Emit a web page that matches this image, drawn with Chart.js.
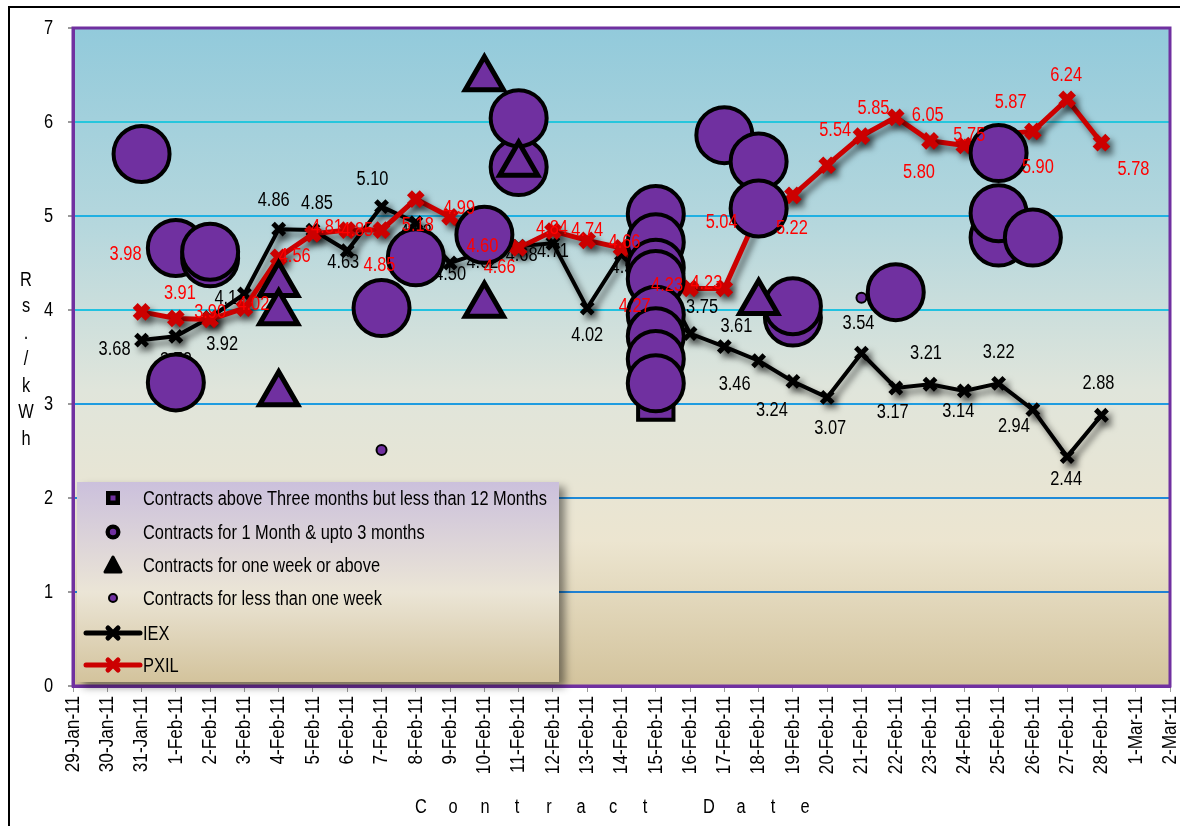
<!DOCTYPE html>
<html>
<head>
<meta charset="utf-8">
<title>IEX / PXIL contract prices</title>
<script src="https://cdn.jsdelivr.net/npm/chart.js@4/dist/chart.umd.min.js"></script>
<style>
  body { margin: 0; background: #fff; }
  #wrap { width: 1180px; height: 826px; position: relative; }
</style>
</head>
<body>
<div id="wrap"><canvas id="priceChart"></canvas></div>
<script>
var dates = ["29-Jan-11", "30-Jan-11", "31-Jan-11",
  "1-Feb-11", "2-Feb-11", "3-Feb-11", "4-Feb-11", "5-Feb-11", "6-Feb-11", "7-Feb-11",
  "8-Feb-11", "9-Feb-11", "10-Feb-11", "11-Feb-11", "12-Feb-11", "13-Feb-11", "14-Feb-11",
  "15-Feb-11", "16-Feb-11", "17-Feb-11", "18-Feb-11", "19-Feb-11", "20-Feb-11", "21-Feb-11",
  "22-Feb-11", "23-Feb-11", "24-Feb-11", "25-Feb-11", "26-Feb-11", "27-Feb-11", "28-Feb-11",
  "1-Mar-11", "2-Mar-11"];

// exchange prices, Rs./kWh (no trading shown on the first two and last two dates)
var iexPrice = [null, null, 3.68,
  3.72, 3.92, 4.17, 4.86, 4.85, 4.63, 5.10, 4.93, 4.50, 4.62, 4.68, 4.71, 4.02, 4.59,
  4.45, 3.75, 3.61, 3.46, 3.24, 3.07, 3.54, 3.17, 3.21, 3.14, 3.22, 2.94, 2.44, 2.88,
  null, null];
var pxilPrice = [null, null, 3.98,
  3.91, 3.90, 4.02, 4.56, 4.81, 4.85, 4.85, 5.18, 4.99, 4.60, 4.66, 4.84, 4.74, 4.66,
  4.27, 4.23, 4.23, 5.04, 5.22, 5.54, 5.85, 6.05, 5.80, 5.75, 5.87, 5.90, 6.24, 5.78,
  null, null];

// bilateral contracts by tenure: [date, price]
var longContracts = [["15-Feb-11", 3.02]];
var monthContracts = [
  ["31-Jan-11", 5.66], ["1-Feb-11", 4.66], ["1-Feb-11", 3.23], ["2-Feb-11", 4.55], ["2-Feb-11", 4.62],
  ["7-Feb-11", 4.02], ["8-Feb-11", 4.56], ["10-Feb-11", 4.80], ["11-Feb-11", 5.52], ["11-Feb-11", 6.04],
  ["15-Feb-11", 5.02], ["15-Feb-11", 4.72], ["15-Feb-11", 4.45], ["15-Feb-11", 4.33], ["15-Feb-11", 3.95],
  ["15-Feb-11", 3.72], ["15-Feb-11", 3.48], ["15-Feb-11", 3.22],
  ["17-Feb-11", 5.86], ["18-Feb-11", 5.58], ["18-Feb-11", 5.08], ["19-Feb-11", 3.92], ["19-Feb-11", 4.04],
  ["22-Feb-11", 4.19], ["25-Feb-11", 5.67], ["25-Feb-11", 4.77], ["25-Feb-11", 5.03], ["26-Feb-11", 4.77]];
var weekContracts = [
  ["4-Feb-11", 4.27], ["4-Feb-11", 3.97], ["4-Feb-11", 3.11], ["10-Feb-11", 6.46], ["10-Feb-11", 4.05],
  ["11-Feb-11", 5.55], ["18-Feb-11", 4.08]];
var dayContracts = [["7-Feb-11", 2.51], ["21-Feb-11", 4.13]];

// where each price label sits relative to its marker (px)
var iexLabelShift = [null, null, [-27, 9],
  [0, 24], [12, 27], [-14, 4], [-5, -29], [4, -27], [-4, 12], [-9, -27], [0, 10], [0, 11], [-2, 11],
  [3, 9], [0, 8], [0, 27], [5, 13], [2, 4], [12, -26], [12, -20], [-24, 24], [-21, 29], [3, 31],
  [-3, -30], [-3, 24], [-4, -31], [-6, 21], [0, -31], [-19, 17], [-1, 23], [-3, -32], null, null];
var pxilLabelShift = [null, null, [-16, -57],
  [4, -25], [0, -7], [9, -4], [16, -1], [14, -6], [10, 0], [-2, 35], [2, 26], [9, -8], [-2, -7],
  [-19, 20], [-1, -3], [0, -10], [3, -5], [-21, 22], [-23, -3], [-18, -5], [-37, 10], [-1, 33], [8, -35],
  [12, -28], [32, -2], [-11, 32], [5, -10], [12, -32], [5, 36], [-1, -24], [32, 27], null, null];

var FONT = "'Liberation Sans', Arial, sans-serif";
var SQUEEZE = 0.82;   // narrow face look
var PURPLE = "#7030A0";

function points(list) {
  return list.map(function (p) { return { x: p[0], y: p[1] }; });
}

function contractSet(label, list, style, radius, border, order) {
  return {
    label: label, data: points(list), showLine: false, order: order,
    pointStyle: style, pointRadius: radius, pointHoverRadius: radius,
    pointBackgroundColor: PURPLE, pointBorderColor: "#000", pointBorderWidth: border,
    backgroundColor: PURPLE, borderColor: "#000"
  };
}

function narrowText(ctx, text, x, y, align, angle) {
  ctx.save();
  ctx.translate(x, y);
  if (angle) ctx.rotate(angle);
  ctx.scale(SQUEEZE, 1);
  ctx.textAlign = align || "center";
  ctx.fillText(text, 0, 0);
  ctx.restore();
}

function drawValues(chart, index, values, shifts, color) {
  var ctx = chart.ctx;
  var meta = chart.getDatasetMeta(index);
  ctx.save();
  ctx.font = "20px " + FONT;
  ctx.fillStyle = color;
  ctx.textBaseline = "middle";
  meta.data.forEach(function (pt, i) {
    if (values[i] == null) return;
    var s = shifts[i] || [0, 0];
    narrowText(ctx, values[i].toFixed(2), pt.x + s[0], pt.y + s[1], "center");
  });
  ctx.restore();
}

function drawTickLabels(chart) {
  var ctx = chart.ctx, xs = chart.scales.x, ys = chart.scales.y;
  ctx.save();
  ctx.fillStyle = "#000";
  ctx.textBaseline = "middle";
  ctx.font = "21px " + FONT;
  xs.ticks.forEach(function (t, i) {
    narrowText(ctx, xs.getLabelForValue(t.value), xs.getPixelForTick(i), xs.top + 10, "right", -Math.PI / 2);
  });
  ctx.font = "20px " + FONT;
  ys.ticks.forEach(function (t, i) {
    narrowText(ctx, String(t.value), ys.right - 20, ys.getPixelForTick(i), "right");
  });
  ctx.restore();
}

function crossMark(ctx, x, y, r) {
  ctx.beginPath();
  ctx.moveTo(x - r, y - r); ctx.lineTo(x + r, y + r);
  ctx.moveTo(x + r, y - r); ctx.lineTo(x - r, y + r);
  ctx.stroke();
}

function drawLegend(chart) {
  var ctx = chart.ctx;
  var bx = 77, by = 482, bw = 482, bh = 200;
  ctx.save();
  ctx.shadowColor = "rgba(0,0,0,0.45)";
  ctx.shadowBlur = 8;
  ctx.shadowOffsetX = 6;
  ctx.shadowOffsetY = 5;
  var g = ctx.createLinearGradient(0, by, 0, by + bh);
  g.addColorStop(0, "#cbc0dc");
  g.addColorStop(0.55, "#ebe5d6");
  g.addColorStop(1, "#d3c39c");
  ctx.fillStyle = g;
  ctx.fillRect(bx, by, bw, bh);
  ctx.restore();

  var rows = [498, 532, 565, 598, 633, 665];
  var mx = 113;
  ctx.save();
  ctx.font = "20px " + FONT;
  ctx.textBaseline = "middle";
  chart.data.datasets.forEach(function (ds, i) {
    var y = rows[i];
    ctx.lineJoin = "round";
    if (ds.pointStyle === "rect") {
      ctx.fillStyle = "#000";
      ctx.fillRect(mx - 7, y - 7, 14, 14);
      ctx.fillStyle = PURPLE;
      ctx.fillRect(mx - 2.5, y - 2.5, 5, 5);
    } else if (ds.pointStyle === "circle" && ds.pointRadius > 10) {
      ctx.fillStyle = "#000";
      ctx.beginPath(); ctx.arc(mx, y, 7.5, 0, Math.PI * 2); ctx.fill();
      ctx.fillStyle = PURPLE;
      ctx.beginPath(); ctx.arc(mx, y, 3.2, 0, Math.PI * 2); ctx.fill();
    } else if (ds.pointStyle === "triangle") {
      ctx.fillStyle = "#000"; ctx.strokeStyle = "#000"; ctx.lineWidth = 3;
      ctx.beginPath(); ctx.moveTo(mx, y - 8); ctx.lineTo(mx + 8, y + 7); ctx.lineTo(mx - 8, y + 7);
      ctx.closePath(); ctx.fill(); ctx.stroke();
    } else if (ds.pointStyle === "circle") {
      ctx.fillStyle = PURPLE; ctx.strokeStyle = "#000"; ctx.lineWidth = 2;
      ctx.beginPath(); ctx.arc(mx, y, 4, 0, Math.PI * 2); ctx.fill(); ctx.stroke();
    } else {
      ctx.strokeStyle = ds.borderColor;
      ctx.lineCap = "round";
      ctx.lineWidth = 5;
      ctx.beginPath(); ctx.moveTo(86, y); ctx.lineTo(140, y); ctx.stroke();
      crossMark(ctx, mx, y, 5);
    }
    ctx.fillStyle = "#000";
    narrowText(ctx, ds.label, 143, y + 1, "left");
  });
  ctx.restore();
}

function drawTitles(chart) {
  var ctx = chart.ctx;
  ctx.save();
  ctx.font = "20px " + FONT;
  ctx.fillStyle = "#000";
  ctx.textBaseline = "middle";
  "Rs./kWh".split("").forEach(function (ch, k) { narrowText(ctx, ch, 26, 280 + k * 26.5, "center"); });
  "Contract Date".split("").forEach(function (ch, k) { narrowText(ctx, ch, 421 + k * 32, 807, "center"); });
  ctx.restore();
}

var chartDecor = {
  id: "chartDecor",
  beforeDraw: function (chart) {
    var ctx = chart.ctx, a = chart.chartArea;
    ctx.save();
    ctx.fillStyle = "#fff";
    ctx.fillRect(0, 0, chart.width, chart.height);
    ctx.strokeStyle = "#000";
    ctx.lineWidth = 2;
    ctx.strokeRect(9, 7, chart.width + 20, chart.height + 20);
    var g = ctx.createLinearGradient(0, a.top, 0, a.bottom);
    g.addColorStop(0, "#92cadb");
    g.addColorStop(0.3, "#b5d7dd");
    g.addColorStop(0.55, "#e0e5db");
    g.addColorStop(0.78, "#ece5d0");
    g.addColorStop(1, "#d3c39c");
    ctx.fillStyle = g;
    ctx.fillRect(a.left, a.top, a.right - a.left, a.bottom - a.top);
    ctx.restore();
  },
  beforeDatasetsDraw: function (chart) {
    var ctx = chart.ctx, a = chart.chartArea;
    ctx.save();
    ctx.strokeStyle = PURPLE;
    ctx.lineWidth = 3;
    ctx.strokeRect(a.left, a.top, a.right - a.left, a.bottom - a.top);
    ctx.restore();
  },
  beforeDatasetDraw: function (chart, args) {
    var ds = chart.data.datasets[args.index];
    if (!ds.shadow) return;
    var ctx = chart.ctx;
    ctx.save();
    ctx.shadowColor = "rgba(0,0,0,0.55)";
    ctx.shadowBlur = 6;
    ctx.shadowOffsetX = 4;
    ctx.shadowOffsetY = 5;
  },
  afterDatasetDraw: function (chart, args) {
    var ds = chart.data.datasets[args.index];
    if (!ds.shadow) return;
    chart.ctx.restore();
    if (ds.label === "IEX") drawValues(chart, args.index, iexPrice, iexLabelShift, "#000");
  },
  afterDraw: function (chart) {
    drawValues(chart, 5, pxilPrice, pxilLabelShift, "#ff0000");
    drawTickLabels(chart);
    drawLegend(chart);
    drawTitles(chart);
  }
};

var gridColors = ["rgba(0,0,0,0)", "#1f80d2", "#1f8ad8", "#1f9ce0", "#22c2e0", "#20b0e2", "#26c6dc", "rgba(0,0,0,0)"];

Chart.defaults.font.family = FONT;
Chart.defaults.font.size = 20;
Chart.defaults.color = "#000";

new Chart("priceChart", {
  type: "line",
  data: {
    labels: dates,
    datasets: [
      contractSet("Contracts above Three months but less than 12 Months", longContracts, "rect", 25, 4, 4),
      contractSet("Contracts for 1 Month & upto 3 months", monthContracts, "circle", 28, 4, 3),
      contractSet("Contracts for one week or above", weekContracts, "triangle", 22, 5, 2),
      contractSet("Contracts for less than one week", dayContracts, "circle", 5, 2, 1),
      {
        label: "IEX", data: iexPrice, order: 6, shadow: true,
        borderColor: "#000", borderWidth: 4, backgroundColor: "#000",
        pointStyle: "crossRot", pointRadius: 8, pointHoverRadius: 8,
        pointBorderColor: "#000", pointBackgroundColor: "#000", pointBorderWidth: 5
      },
      {
        label: "PXIL", data: pxilPrice, order: 5, shadow: true,
        borderColor: "#cc0000", borderWidth: 5, backgroundColor: "#cc0000",
        pointStyle: "crossRot", pointRadius: 9, pointHoverRadius: 9,
        pointBorderColor: "#cc0000", pointBackgroundColor: "#cc0000", pointBorderWidth: 7
      }
    ]
  },
  options: {
    responsive: true,
    maintainAspectRatio: false,
    animation: false,
    layout: { autoPadding: false, padding: { top: 28, right: 10, left: 0, bottom: 0 } },
    plugins: {
      legend: { display: false },
      tooltip: { enabled: false },
      title: { display: false }
    },
    scales: {
      x: {
        type: "category",
        offset: false,
        border: { color: PURPLE, width: 3 },
        grid: { drawOnChartArea: false, drawTicks: true, tickLength: 6, color: "#9a9a9a" },
        ticks: { display: false, autoSkip: false },
        afterFit: function (scale) {
          scale.height = 140;
          scale.paddingLeft = 0;
          scale.paddingRight = 0;
        }
      },
      y: {
        min: 0,
        max: 7,
        border: { color: PURPLE, width: 3 },
        grid: {
          lineWidth: 2,
          tickLength: 5,
          tickColor: "#9a9a9a",
          color: function (c) { return gridColors[c.tick.value] || "rgba(0,0,0,0)"; }
        },
        ticks: { display: false, stepSize: 1 },
        afterFit: function (scale) { scale.width = 73; }
      }
    }
  },
  plugins: [chartDecor]
});
</script>
</body>
</html>
